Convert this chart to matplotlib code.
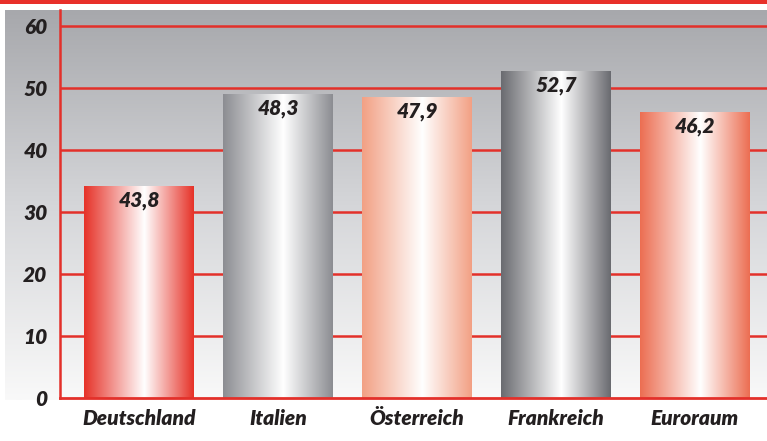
import matplotlib
matplotlib.use("Agg")
import matplotlib.pyplot as plt
import numpy as np
from matplotlib.colors import LinearSegmentedColormap

categories = ["Deutschland", "Italien", "Österreich", "Frankreich", "Euroraum"]
bar_heights = [34.2, 49.0, 48.6, 52.8, 46.2]
value_labels = ["43,8", "48,3", "47,9", "52,7", "46,2"]
edge_colors = ["#e63228", "#8c8d92", "#f2a084", "#6a6b70", "#ec6e52"]
yticks = [0, 10, 20, 30, 40, 50, 60]

TXTC = "#231f20"
RED = "#e3302a"
plt.rcParams["font.family"] = ["Lato", "DejaVu Sans"]
plt.rcParams["font.weight"] = "heavy"
plt.rcParams["font.style"] = "italic"
plt.rcParams["text.color"] = TXTC
plt.rcParams["xtick.color"] = TXTC
plt.rcParams["ytick.color"] = TXTC
plt.rcParams["xtick.labelsize"] = 15
plt.rcParams["ytick.labelsize"] = 15

W, H = 767, 441
fig = plt.figure(figsize=(W / 100, H / 100), dpi=100)
fig.patch.set_facecolor("white")

# top red strip
fig.add_artist(plt.Rectangle((0, 1 - 4 / H), 1, 4 / H, transform=fig.transFigure,
                             color="#e8302a", lw=0))

# gray gradient panel
bg = fig.add_axes([5 / W, (H - 400) / H, (W - 5) / W, 390 / H])
bg.set_axis_off()
grad = np.linspace(0, 1, 256).reshape(-1, 1)
bg_cmap = LinearSegmentedColormap.from_list("bg", ["#a7a8ac", "#d5d6d9", "#f9f9f9"])
bg.imshow(grad, aspect="auto", cmap=bg_cmap, extent=[0, 1, 0, 1], origin="upper")
bg.set_xlim(0, 1); bg.set_ylim(0, 1)

# main axes
y0_px = 398
top_px = 10
scale = 6.2  # px per unit
ax = fig.add_axes([60 / W, (H - y0_px) / H, (W - 60) / W, (y0_px - top_px) / H])
ax.patch.set_alpha(0)

for t in yticks[1:]:
    ax.axhline(t, color=RED, lw=1.8, zorder=1)

x = np.arange(len(categories))
bars = ax.bar(x, bar_heights, width=0.79, color="none", edgecolor="none", zorder=2)

prof = np.linspace(0, 1, 256).reshape(1, -1)
for b, c, lab in zip(bars, edge_colors, value_labels):
    cm = LinearSegmentedColormap.from_list("g", [(0, c), (0.55, "#ffffff"), (1, c)])
    x0, w = b.get_x(), b.get_width()
    h = b.get_height()
    im = ax.imshow(prof, aspect="auto", cmap=cm, extent=[x0, x0 + w, 0, h],
                   zorder=3, interpolation="bilinear")
    im.set_clip_path(b)
    ax.annotate(lab, (x0 + w / 2, h), xytext=(0, -10.5), textcoords="offset points",
                ha="center", va="center", fontsize=15, color=TXTC, zorder=5)

ax.set_xlim(-0.57, 4.52)
ax.set_ylim(0, (y0_px - top_px) / scale)

for s in ["top", "right"]:
    ax.spines[s].set_visible(False)
ax.spines["left"].set_color(RED)
ax.spines["left"].set_linewidth(1.8)
ax.spines["bottom"].set_color(RED)
ax.spines["bottom"].set_linewidth(2)
ax.spines["left"].set_zorder(6)
ax.spines["bottom"].set_zorder(6)

ax.set_yticks(yticks)
ax.set_yticklabels([str(t) for t in yticks])
ax.set_xticks(x)
ax.set_xticklabels(categories)
ax.tick_params(axis="both", length=0)
ax.tick_params(axis="y", pad=9)
ax.tick_params(axis="x", pad=8)

fig.savefig("out.png", dpi=100)
